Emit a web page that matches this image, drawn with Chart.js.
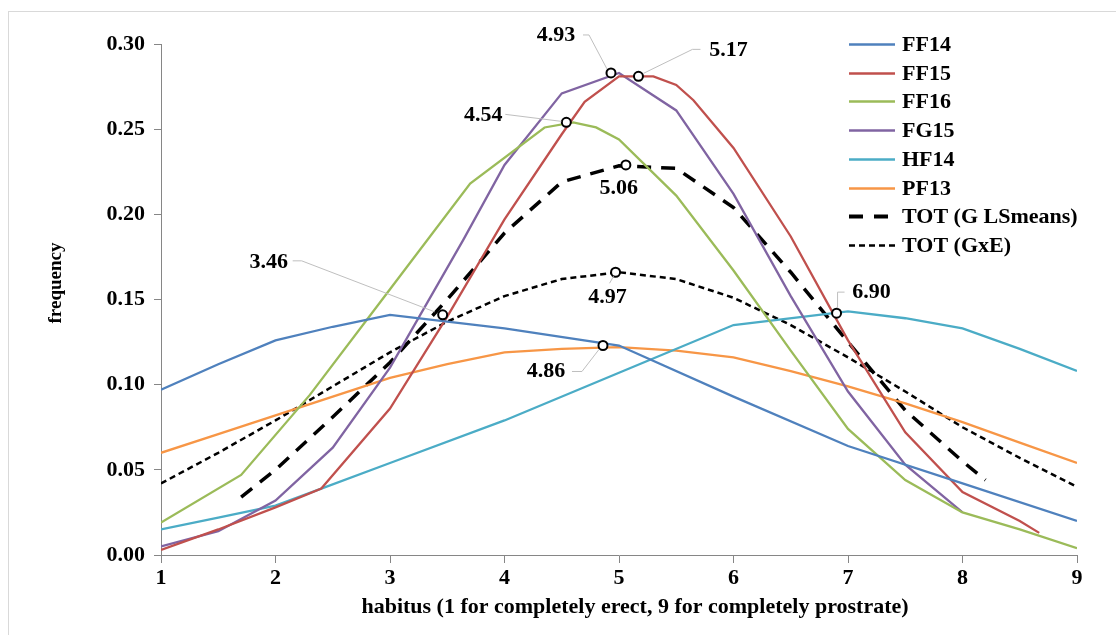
<!DOCTYPE html>
<html>
<head>
<meta charset="utf-8">
<script src="https://cdn.jsdelivr.net/npm/chart.js@4.4.1/dist/chart.umd.min.js"></script>
<style>
  html, body { margin: 0; padding: 0; background: #fff; }
  #wrap { width: 1116px; height: 635px; position: relative; }
</style>
</head>
<body>
<div id="wrap"><canvas id="habitusChart"></canvas></div>
<script>
// habitus score (x) and frequency (y) for each environment
const ff14X = [1, 1.5, 2, 2.5, 3, 4, 5, 6, 7, 8, 9];
const ff14Y = [0.097, 0.112, 0.126, 0.134, 0.141, 0.133, 0.123, 0.093, 0.064, 0.042, 0.020];

const ff15X = [1, 1.5, 2, 2.4, 3, 3.5, 4, 4.5, 4.7, 5, 5.3, 5.5, 5.65, 6, 6.5, 7, 7.5, 8, 8.5, 8.67];
const ff15Y = [0.003, 0.015, 0.028, 0.039, 0.086, 0.140, 0.197, 0.247, 0.266, 0.281, 0.281, 0.276, 0.267, 0.239, 0.187, 0.126, 0.072, 0.037, 0.020, 0.013];

const ff16X = [1, 1.7, 2.3, 3, 3.7, 4.35, 4.6, 4.8, 5, 5.5, 6, 6.5, 7, 7.5, 8, 8.5, 9];
const ff16Y = [0.019, 0.047, 0.094, 0.156, 0.218, 0.251, 0.254, 0.251, 0.244, 0.211, 0.167, 0.120, 0.074, 0.044, 0.025, 0.015, 0.004];

const fg15X = [1, 1.5, 2, 2.5, 3, 3.64, 4, 4.5, 5, 5.5, 6, 6.5, 7, 7.5, 8];
const fg15Y = [0.005, 0.014, 0.032, 0.063, 0.110, 0.185, 0.229, 0.271, 0.283, 0.261, 0.212, 0.152, 0.096, 0.053, 0.025];

const hf14X = [1, 1.5, 2, 2.4, 3, 4, 5, 6, 7, 7.5, 8, 8.5, 9];
const hf14Y = [0.015, 0.022, 0.029, 0.039, 0.054, 0.079, 0.107, 0.135, 0.143, 0.139, 0.133, 0.121, 0.108];

const pf13X = [1, 1.5, 2, 2.5, 3, 3.5, 4, 4.5, 5, 5.5, 6, 6.5, 7, 7.5, 8, 8.5, 9];
const pf13Y = [0.060, 0.071, 0.082, 0.093, 0.104, 0.112, 0.119, 0.121, 0.122, 0.120, 0.116, 0.108, 0.099, 0.089, 0.078, 0.066, 0.054];

const totGX = [1.7, 2, 2.5, 3, 3.5, 4, 4.5, 5, 5.5, 6, 6.5, 7, 7.5, 8, 8.2];
const totGY = [0.034, 0.050, 0.081, 0.113, 0.150, 0.189, 0.219, 0.2285, 0.227, 0.204, 0.166, 0.125, 0.085, 0.055, 0.044];

const totGxEX = [1, 1.5, 2, 2.5, 3, 3.5, 4, 4.5, 5, 5.5, 6, 6.5, 7, 7.5, 8, 8.5, 9];
const totGxEY = [0.042, 0.060, 0.079, 0.099, 0.119, 0.137, 0.152, 0.162, 0.166, 0.162, 0.151, 0.135, 0.116, 0.096, 0.075, 0.057, 0.040];

// mean habitus markers
const meanX = [4.93, 5.17, 4.54, 5.06, 4.97, 4.86, 3.46, 6.90];
const meanY = [0.283, 0.281, 0.254, 0.229, 0.166, 0.123, 0.141, 0.142];

const xTicks = [1, 2, 3, 4, 5, 6, 7, 8, 9];
const yTicks = [0, 0.05, 0.10, 0.15, 0.20, 0.25, 0.30];

const xTitle = 'habitus (1 for completely erect, 9 for completely prostrate)';
const yTitle = 'frequency';

const FONT = "'Liberation Serif', 'Times New Roman', serif";

const toPoints = (xs, ys) => xs.map((x, i) => ({ x: x, y: ys[i] }));

const series = (label, xs, ys, color, width, dash) => ({
    label: label,
    data: toPoints(xs, ys),
    borderColor: color,
    backgroundColor: color,
    borderWidth: width,
    borderDash: dash || [],
    pointRadius: 0,
    pointHoverRadius: 0,
    fill: false,
    tension: 0
});

// where each mean label sits, relative to its marker (pixels)
const labelLayout = [
    { dx: -55, dy: -38, leader: [[-28, -38], [-22, -38], [-4, -4]] },
    { dx: 90, dy: -26, leader: [[62, -27], [54, -27], [5, -3]] },
    { dx: -83, dy: -7, leader: [[-61, -8], [-5, -1]] },
    { dx: -7, dy: 23, leader: [] },
    { dx: -8, dy: 25, leader: [[-6, 11], [-2, 4]] },
    { dx: -57, dy: 26, leader: [[-31, 26], [-21, 26], [-4, 4]] },
    { dx: -174, dy: -53, leader: [[-150, -54], [-141, -54], [-8, -3]] },
    { dx: 35, dy: -21, leader: [[8, -21], [1, -21], [1, -5]] }
];

const framePlugin = {
    id: 'frame',
    beforeDraw(chart) {
        const ctx = chart.ctx;
        ctx.save();
        ctx.fillStyle = '#fff';
        ctx.fillRect(0, 0, chart.width, chart.height);
        ctx.strokeStyle = '#d9d9d9';
        ctx.lineWidth = 1;
        ctx.strokeRect(8.5, 11.5, chart.width + 20, chart.height + 20);
        ctx.restore();
    },
    afterDraw(chart) {
        // axis titles sit a bit off-centre in the original, so they are drawn here
        const ctx = chart.ctx;
        ctx.save();
        ctx.fillStyle = '#000';
        ctx.textAlign = 'center';
        ctx.textBaseline = 'middle';
        ctx.font = 'bold 22px ' + FONT;
        ctx.fillText(xTitle, 635, 607);
        ctx.translate(56, 283);
        ctx.rotate(-Math.PI / 2);
        ctx.font = 'bold 19px ' + FONT;
        ctx.fillText(yTitle, 0, 0);
        ctx.restore();
    }
};

const meanLabelPlugin = {
    id: 'meanLabels',
    afterDatasetsDraw(chart) {
        const ctx = chart.ctx;
        const xs = chart.scales.x, ys = chart.scales.y;
        ctx.save();
        meanX.forEach((mx, i) => {
            const px = xs.getPixelForValue(mx);
            const py = ys.getPixelForValue(meanY[i]);
            const lay = labelLayout[i];
            if (lay.leader.length > 1) {
                ctx.strokeStyle = '#bfbfbf';
                ctx.lineWidth = 1;
                ctx.beginPath();
                lay.leader.forEach((p, j) => {
                    if (j === 0) ctx.moveTo(px + p[0], py + p[1]);
                    else ctx.lineTo(px + p[0], py + p[1]);
                });
                ctx.stroke();
            }
            ctx.fillStyle = '#000';
            ctx.font = 'bold 22px ' + FONT;
            ctx.textAlign = 'center';
            ctx.textBaseline = 'middle';
            ctx.fillText(mx.toFixed(2), px + lay.dx, py + lay.dy);
        });
        ctx.restore();
    }
};

const legendPlugin = {
    id: 'sideLegend',
    afterDraw(chart) {
        const ctx = chart.ctx;
        const x0 = 849, len = 46, top = 44, step = 28.7;
        ctx.save();
        chart.data.datasets.filter(d => !d.isMarker).forEach((d, i) => {
            const y = Math.round(top + i * step) + 0.5;
            ctx.strokeStyle = d.borderColor;
            ctx.lineWidth = d.legendWidth || d.borderWidth;
            ctx.setLineDash(d.legendDash || d.borderDash);
            ctx.beginPath();
            ctx.moveTo(x0, y);
            ctx.lineTo(x0 + len, y);
            ctx.stroke();
            ctx.setLineDash([]);
            ctx.fillStyle = '#000';
            ctx.font = 'bold 22px ' + FONT;
            ctx.textAlign = 'left';
            ctx.textBaseline = 'middle';
            ctx.fillText(d.label, x0 + len + 7, y + 1);
        });
        ctx.restore();
    }
};

const totG = series('TOT (G LSmeans)', totGX, totGY, '#000000', 3.5, [14, 10]);
totG.legendDash = [14, 11];
totG.legendWidth = 4;
const totGxE = series('TOT (GxE)', totGxEX, totGxEY, '#000000', 2.5, [6, 4]);

const markers = {
    label: 'means',
    isMarker: true,
    type: 'scatter',
    data: toPoints(meanX, meanY),
    showLine: false,
    pointRadius: 4.5,
    pointHoverRadius: 4.5,
    pointBorderWidth: 2,
    pointBackgroundColor: '#ffffff',
    pointBorderColor: '#000000',
    order: -1
};

new Chart(document.getElementById('habitusChart').getContext('2d'), {
    type: 'line',
    data: {
        datasets: [
            series('FF14', ff14X, ff14Y, '#4F81BD', 2.3),
            series('FF15', ff15X, ff15Y, '#C0504D', 2.3),
            series('FF16', ff16X, ff16Y, '#9BBB59', 2.3),
            series('FG15', fg15X, fg15Y, '#8064A2', 2.3),
            series('HF14', hf14X, hf14Y, '#4BACC6', 2.3),
            series('PF13', pf13X, pf13Y, '#F79646', 2.3),
            totG,
            totGxE,
            markers
        ]
    },
    options: {
        responsive: true,
        maintainAspectRatio: false,
        animation: false,
        devicePixelRatio: 1,
        layout: { padding: { left: 40, right: 39, top: 44, bottom: 0 } },
        plugins: {
            legend: { display: false },
            tooltip: { enabled: false }
        },
        scales: {
            x: {
                type: 'linear',
                min: 1,
                max: 9,
                afterBuildTicks: scale => { scale.ticks = xTicks.map(v => ({ value: v })); },
                afterFit: scale => { scale.height = 80; },
                ticks: {
                    color: '#000',
                    padding: 2,
                    font: { family: FONT, size: 22, weight: 'bold' }
                },
                grid: { drawOnChartArea: false, drawTicks: true, tickLength: 8, color: '#868686' },
                border: { color: '#868686', width: 1 },
                title: { display: false }
            },
            y: {
                min: 0,
                max: 0.3,
                afterBuildTicks: scale => { scale.ticks = yTicks.map(v => ({ value: v })); },
                afterFit: scale => { scale.width = 121; },
                ticks: {
                    color: '#000',
                    padding: 9,
                    font: { family: FONT, size: 22, weight: 'bold' },
                    callback: v => v.toFixed(2)
                },
                grid: { drawOnChartArea: false, drawTicks: true, tickLength: 7, color: '#868686' },
                border: { color: '#868686', width: 1 },
                title: { display: false }
            }
        }
    },
    plugins: [framePlugin, meanLabelPlugin, legendPlugin]
});
</script>
</body>
</html>
